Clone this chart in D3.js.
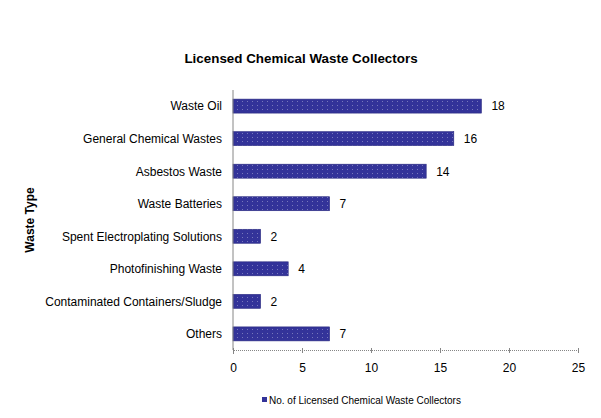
<!DOCTYPE html>
<html>
<head>
<meta charset="utf-8">
<script src="https://cdn.jsdelivr.net/npm/d3@7"></script>
<style>
  body { margin: 0; background: #fff; }
  text { font-family: "Liberation Sans", Arial, sans-serif; fill: #000; }
</style>
</head>
<body>
<script>
// data
var categories = ['Waste Oil', 'General Chemical Wastes', 'Asbestos Waste', 'Waste Batteries',
                  'Spent Electroplating Solutions', 'Photofinishing Waste',
                  'Contaminated Containers/Sludge', 'Others']
var values = [18, 16, 14, 7, 2, 4, 2, 7]
var xTicks = [0, 5, 10, 15, 20, 25]
var seriesName = 'No. of Licensed Chemical Waste Collectors'

var width = 601
var height = 418
var margin = {top: 90, right: 23, bottom: 68, left: 233}

var svg = d3.select('body').append('svg').attr('width', width).attr('height', height)

// dotted bar fill
var defs = svg.append('defs')
var pat = defs.append('pattern').attr('id', 'dots').attr('patternUnits', 'userSpaceOnUse')
              .attr('width', 5).attr('height', 4)
pat.append('rect').attr('width', 5).attr('height', 4).attr('fill', '#333399')
pat.append('rect').attr('x', 2).attr('y', 1).attr('width', 1).attr('height', 1).attr('fill', '#7777bb')

var x = d3.scaleLinear().domain([0, 25]).range([margin.left, width - margin.right])
var y = d3.scaleBand().domain(categories).range([margin.top, height - margin.bottom]).paddingInner(0.57).paddingOuter(0.28)

// title
svg.append('text').attr('x', 301).attr('y', 63).attr('text-anchor', 'middle')
   .style('font-weight', 'bold').style('font-size', '13.4px')
   .text('Licensed Chemical Waste Collectors')

// y axis title
svg.append('text').attr('transform', 'translate(34,220) rotate(-90)').attr('text-anchor', 'middle')
   .style('font-weight', 'bold').style('font-size', '12px')
   .text('Waste Type')

// bars
svg.selectAll('rect.bar').data(values).enter()
   .append('rect').attr('class', 'bar')
   .attr('x', x(0))
   .attr('y', (d, i) => y(categories[i]))
   .attr('width', d => x(d) - x(0))
   .attr('height', y.bandwidth())
   .attr('fill', 'url(#dots)')
   .attr('stroke', '#2a2a80').attr('stroke-width', 0.6)

// value labels
svg.selectAll('text.val').data(values).enter()
   .append('text').attr('class', 'val')
   .attr('x', d => x(d) + 10)
   .attr('y', (d, i) => y(categories[i]) + y.bandwidth() / 2)
   .attr('dy', '0.36em')
   .style('font-size', '12px')
   .text(d => d)

// category labels
svg.selectAll('text.cat').data(categories).enter()
   .append('text').attr('class', 'cat')
   .attr('x', margin.left - 11)
   .attr('y', d => y(d) + y.bandwidth() / 2)
   .attr('dy', '0.36em')
   .attr('text-anchor', 'end')
   .style('font-size', '12px')
   .text(d => d)

// y axis line
svg.append('line').attr('x1', x(0)).attr('x2', x(0))
   .attr('y1', margin.top).attr('y2', height - margin.bottom)
   .attr('stroke', '#868686').attr('stroke-width', 1)

// x axis
var axis = d3.axisBottom(x).tickValues(xTicks).tickSize(4).tickPadding(9)
var gx = svg.append('g').attr('transform', 'translate(0,' + (height - margin.bottom) + ')').call(axis)
gx.select('.domain').attr('stroke', '#868686').attr('stroke-dasharray', '1,1')
gx.selectAll('.tick line').attr('stroke', '#868686').attr('y1', -2).attr('y2', 3)
gx.selectAll('.tick text').style('font-size', '12px').style('font-family', '"Liberation Sans", Arial, sans-serif').attr('fill', '#000')

// legend
var lg = svg.append('g').attr('transform', 'translate(262,400)')
lg.append('rect').attr('x', 0).attr('y', -3).attr('width', 5).attr('height', 5).attr('fill', '#333399')
lg.append('text').attr('x', 7).attr('y', 0).attr('dy', '0.35em').style('font-size', '10px').text(seriesName)
</script>
</body>
</html>
